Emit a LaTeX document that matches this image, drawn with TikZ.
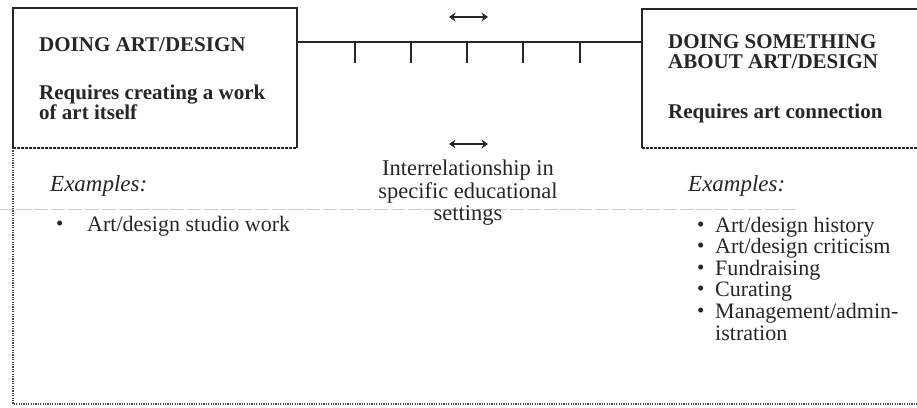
\documentclass[tikz,border=0pt]{standalone}
\usepackage{fontspec}
\setmainfont{Liberation Serif}
\usetikzlibrary{arrows.meta}
\definecolor{ink}{HTML}{262626}
\begin{document}
\begin{tikzpicture}[x=1pt,y=-1pt,
  rule/.style={draw=ink,line width=1.8pt},
  dashrule/.style={draw=ink,line width=1.8pt,dash pattern=on 3pt off 1pt},
  dotrule/.style={draw=ink!85,line width=1.6pt,dash pattern=on 1.2pt off 1.2pt},
  tickrule/.style={draw=ink,line width=1.4pt},
  faint/.style={draw=gray!40,line width=0.8pt,dash pattern=on 14pt off 3pt},
  twoway/.style={draw=ink,line width=1.8pt,{Stealth[length=6.5pt,width=9pt]}-{Stealth[length=6.5pt,width=9pt]}},
  title/.style={anchor=base west,inner sep=0pt,text=ink,font=\fontsize{21}{21}\selectfont\bfseries},
  captitle/.style={title,text height=14pt,text depth=0pt},
  body/.style={anchor=base west,inner sep=0pt,text=ink,font=\fontsize{22}{22}\selectfont},
  ex/.style={anchor=base west,inner sep=0pt,text=ink,font=\fontsize{23}{23}\selectfont\itshape},
  dot/.style={anchor=base west,inner sep=0pt,text=ink,font=\fontsize{21}{21}\selectfont},
]
\useasboundingbox (0,0) rectangle (917,407);

% faint rule running across the middle band
\coordinate (fl) at (0,209);
\coordinate (fr) at (795,209);
\draw[faint] (fl) -- (fr);

% left box: doing art/design
\coordinate (L-nw) at (13,8);
\coordinate (L-ne) at (297,8);
\coordinate (L-se) at (297,148);
\coordinate (L-sw) at (13,148);
\draw[rule] (L-sw) -- (L-nw) -- (L-ne) -- (L-se);
\draw[dashrule] (L-sw) -- (L-se);

% right box: doing something about art/design
\coordinate (R-nw) at (642,9);
\coordinate (R-ne) at (920,9);
\coordinate (R-se) at (920,148);
\coordinate (R-sw) at (642,148);
\draw[rule] (R-sw) -- (R-nw) -- (R-ne);
\draw[dashrule] (R-sw) -- (R-se);

% outer dotted frame below the boxes
\coordinate (F-sw) at (13,404);
\coordinate (F-se) at (920,404);
\draw[dotrule] (L-sw) -- (F-sw) -- (F-se);

% scale bar joining the two boxes
\coordinate (bar-l) at (297,42);
\coordinate (bar-r) at (642,42);
\draw[rule,line width=1.5pt] (bar-l) -- (bar-r);
\foreach \x [count=\i] in {355,411,467,523,580} {
  \coordinate (tick\i) at (\x,42);
  \draw[tickrule] (tick\i) -- ++(0,21);
}

% two-way arrows
\coordinate (up-l) at (449,17);
\coordinate (up-r) at (488,17);
\draw[twoway] (up-l) -- (up-r);
\coordinate (lo-l) at (449,144);
\coordinate (lo-r) at (488,144);
\draw[twoway] (lo-l) -- (lo-r);

\node[anchor=north,inner sep=0pt,text=ink,align=center,
      font=\fontsize{22.5}{22.5}\selectfont] (inter) at (468,160)
  {Interrelationship in\\specific educational\\settings};

% left box text
\node[captitle] (lt1) at (39,51) {DOING ART/DESIGN};
\node[title] (lt2) at (39,99) {Requires creating a work};
\node[title] (lt3) at (39,119) {of art itself};

% right box text
\node[captitle] (rt1) at (668,48) {DOING SOMETHING};
\node[captitle] (rt2) at (668,68) {ABOUT ART/DESIGN};
\node[title] (rt3) at (668,118) {Requires art connection};

% left examples
\node[ex] (lex) at (50,191) {Examples:};
\node[dot] (lb1) at (56,230) {•};
\node[body] (li1) at (87,231) {Art/design studio work};

% right examples
\node[ex] (rex) at (688,191) {Examples:};
\foreach \t [count=\i] in {Art/design history,Art/design criticism,Fundraising,Curating,Management/admin-} {
  \pgfmathsetmacro{\yy}{232+21.6*(\i-1)}
  \node[dot] (rb\i) at (697,\yy-1) {•};
  \node[body] (ri\i) at (715,\yy) {\t};
}
\node[body] (ri6) at (715,340) {istration};
\end{tikzpicture}
\end{document}
